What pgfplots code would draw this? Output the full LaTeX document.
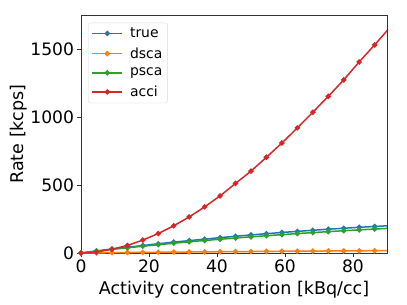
\documentclass[border=0pt]{standalone}
\usepackage{fontspec}
\setmainfont{DejaVu Sans}
\usepackage{pgfplots}
\pgfplotsset{compat=1.18}
\definecolor{tabblue}{HTML}{1F77B4}
\definecolor{taborange}{HTML}{FF7F0E}
\definecolor{tabgreen}{HTML}{2CA02C}
\definecolor{tabred}{HTML}{D62728}
\pgfplotstableread{
x true dsca psca acci
0 0 0 0 0
4.545 15 1 14 7
9.091 29 2.5 27 28
13.636 42 3.5 38 55
18.182 55 4.5 50 95
22.727 68 5.5 61 143
27.273 80 6.5 72 200
31.818 91 7.5 82 265
36.364 102 8.5 92 339
40.909 113 9.5 101 420
45.455 123 10.5 110 512
50 133 11 119 602
54.545 142 12 127 704
59.091 151 13 135 809
63.636 159 13.5 143 920
68.182 167 14 150 1035
72.727 175 15 157 1152
77.273 182 15.5 164 1273
81.818 189 16 170 1405
86.364 195 17 176 1530
90.909 201 17.5 182 1660
}\data
\begin{document}
\begin{tikzpicture}
\path[use as bounding box] (-81bp,-52bp) rectangle (326bp,253bp);
\begin{axis}[
  at={(0,0)}, anchor=south west,
  scale only axis, width=306bp, height=238bp,
  xmin=0, xmax=90, ymin=0, ymax=1750,
  xtick={0,20,40,60,80}, ytick={0,500,1000,1500},
  tick align=outside, tick pos=left,
  major tick length=3.5bp,
  axis line style={black!80, line width=0.6bp},
  tick style={black!80, line width=0.6bp},
  ticklabel style={font=\fontsize{17.2}{19}\selectfont},
  /pgf/number format/assume math mode=true,
  /pgf/number format/1000 sep={},
  label style={font=\fontsize{17.6}{20}\selectfont},
  xlabel={Activity concentration [kBq/cc]},
  ylabel={Rate [kcps]},
  xlabel style={yshift=-1bp},
  ylabel style={yshift=-4bp},
  legend style={at={(0.024,0.968)}, anchor=north west, draw=black!15, rounded corners=2bp,
    font=\fontsize{14}{16}\selectfont, row sep=4.5bp, column sep=5bp, inner sep=3bp},
  legend cell align=left,
  legend image code/.code={\draw[mark repeat=2,mark phase=2,line width=1.5bp,#1] plot coordinates {(0bp,0bp) (15bp,0bp) (30bp,0bp)};},
  every axis plot/.append style={line width=1.5bp, mark=*, mark size=1.9bp},
]
\addplot[tabblue, mark options={fill=tabblue}] table[x=x,y=true] {\data};
\addlegendentry{true}
\addplot[taborange, mark options={fill=taborange}] table[x=x,y=dsca] {\data};
\addlegendentry{dsca}
\addplot[tabgreen, mark options={fill=tabgreen}] table[x=x,y=psca] {\data};
\addlegendentry{psca}
\addplot[tabred, mark options={fill=tabred}] table[x=x,y=acci] {\data};
\addlegendentry{acci}
\end{axis}
\end{tikzpicture}
\end{document}
